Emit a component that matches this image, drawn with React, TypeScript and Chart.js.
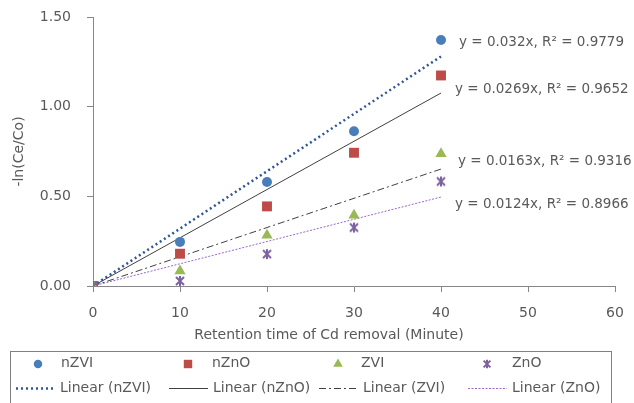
import React, { useEffect, useRef } from 'react';
import { Chart, registerables } from 'chart.js';

Chart.register(...registerables);

// Retention time (minutes) and -ln(Ce/Co) for each adsorbent
const times = [0, 10, 20, 30, 40];
const seriesNames = ['nZVI', 'nZnO', 'ZVI', 'ZnO'];
const nZVI = [0, 0.246, 0.58, 0.863, 1.372];
const nZnO = [0, 0.18, 0.444, 0.743, 1.174];
const ZVI = [0, 0.083, 0.283, 0.394, 0.737];
const ZnO = [0, 0.028, 0.178, 0.326, 0.583];
const seriesValues = [nZVI, nZnO, ZVI, ZnO];

// Linear fits through the origin
const slopes = [0.032, 0.0269, 0.0163, 0.0124];
const rSquared = ['0.9779', '0.9652', '0.9316', '0.8966'];
const fitEnd = 40;

const xTitle = 'Retention time of Cd removal (Minute)';
const yTitle = '-ln(Ce/Co)';

const FONT = '"DejaVu Sans", Verdana, sans-serif';
const TEXT = '#595959';
const AXIS = '#868686';

const markerColors = ['#4a7ebb', '#be4b48', '#98b954', '#7d60a0'];
const markerStyles = ['circle', 'rect', 'triangle', 'star'];
const markerRadius = [5, 7, 6.5, 5];

const lineColors = ['#2f5597', '#404040', '#404040', '#9966cc'];
const lineWidths = [2.5, 1, 1, 1];
const lineDashes = [[2, 3], [], [7, 3, 2, 3], [2, 1.5]];

// equation label placement (pixels from canvas origin)
const eqLabelPos = [
  [459, 42],
  [455, 89],
  [458, 161],
  [455, 204],
];

function markerPath(ctx: CanvasRenderingContext2D, i: number, x: number, y: number, r: number) {
  ctx.save();
  ctx.fillStyle = markerColors[i];
  ctx.strokeStyle = markerColors[i];
  ctx.beginPath();
  const style = markerStyles[i];
  if (style === 'circle') {
    ctx.arc(x, y, r, 0, Math.PI * 2);
    ctx.fill();
  } else if (style === 'rect') {
    const s = r * Math.SQRT1_2;
    ctx.rect(x - s, y - s, 2 * s, 2 * s);
    ctx.fill();
  } else if (style === 'triangle') {
    ctx.moveTo(x, y - r);
    ctx.lineTo(x + r * 0.866, y + r * 0.5);
    ctx.lineTo(x - r * 0.866, y + r * 0.5);
    ctx.closePath();
    ctx.fill();
  } else {
    // asterisk: an X crossed by a vertical bar
    ctx.lineWidth = 2;
    const d = r * 0.8;
    ctx.moveTo(x - d, y - d);
    ctx.lineTo(x + d, y + d);
    ctx.moveTo(x + d, y - d);
    ctx.lineTo(x - d, y + d);
    ctx.moveTo(x, y - r);
    ctx.lineTo(x, y + r);
    ctx.stroke();
  }
  ctx.restore();
}

// the ZnO asterisk, handed to Chart.js as an image point style
function asteriskCanvas(i: number, r: number) {
  const size = Math.ceil(r * 2 + 4);
  const c = document.createElement('canvas');
  c.width = size;
  c.height = size;
  const cx = c.getContext('2d');
  if (cx) markerPath(cx, i, size / 2, size / 2, r);
  return c;
}

const overlayPlugin = {
  id: 'overlay',
  afterDraw(chart: any) {
    const ctx: CanvasRenderingContext2D = chart.ctx;
    const area = chart.chartArea;
    ctx.save();
    ctx.font = `14px ${FONT}`;
    ctx.fillStyle = TEXT;
    ctx.textBaseline = 'middle';

    // axis titles
    ctx.textAlign = 'center';
    ctx.fillText(xTitle, 329, 335);
    ctx.save();
    ctx.translate(19, (area.top + area.bottom) / 2);
    ctx.rotate(-Math.PI / 2);
    ctx.fillText(yTitle, 0, 0);
    ctx.restore();

    // trendline equations
    ctx.font = `13.5px ${FONT}`;
    ctx.textAlign = 'left';
    slopes.forEach((m, i) => {
      const [lx, ly] = eqLabelPos[i];
      ctx.fillText(`y = ${m}x, R² = ${rSquared[i]}`, lx, ly);
    });

    // legend box
    ctx.font = `14px ${FONT}`;
    ctx.strokeStyle = '#808080';
    ctx.lineWidth = 1;
    ctx.strokeRect(10.5, 351.5, 601, 60);

    const colX = [38, 188, 338, 487];
    const labelX = [61, 212, 361, 512];
    const lineStart = [16, 169, 319, 468];
    const row1 = 364;
    const row2 = 388;
    seriesNames.forEach((name, i) => {
      markerPath(ctx, i, colX[i], row1, markerRadius[i] * 0.85);
      ctx.fillStyle = TEXT;
      ctx.fillText(name, labelX[i], row1 - 1);

      ctx.save();
      ctx.strokeStyle = lineColors[i];
      ctx.lineWidth = lineWidths[i];
      ctx.setLineDash(lineDashes[i]);
      ctx.beginPath();
      ctx.moveTo(lineStart[i], row2 + 0.5);
      ctx.lineTo(lineStart[i] + 39, row2 + 0.5);
      ctx.stroke();
      ctx.restore();
      ctx.fillStyle = TEXT;
      ctx.fillText(`Linear (${name})`, lineStart[i] + 44, row2);
    });
    ctx.restore();
  },
};

export default function App() {
  const canvasRef = useRef<HTMLCanvasElement>(null);

  useEffect(() => {
    const canvas = canvasRef.current;
    if (!canvas) return;

    const fitSets = seriesNames.map((name, i) => ({
      label: `Linear (${name})`,
      data: [
        { x: 0, y: 0 },
        { x: fitEnd, y: slopes[i] * fitEnd },
      ],
      showLine: true,
      borderColor: lineColors[i],
      borderWidth: lineWidths[i],
      borderDash: lineDashes[i],
      pointRadius: 0,
      order: 10,
    }));

    // later series are drawn over earlier ones
    const pointSets = seriesNames.map((name, i) => ({
      label: name,
      data: times.map((t, k) => ({ x: t, y: seriesValues[i][k] })),
      showLine: false,
      pointStyle: markerStyles[i] === 'star' ? asteriskCanvas(i, markerRadius[i]) : markerStyles[i],
      pointRadius: markerRadius[i],
      pointBackgroundColor: markerColors[i],
      pointBorderColor: markerColors[i],
      pointBorderWidth: 0,
      order: 5 - i,
    }));

    const chart = new Chart(canvas, {
      type: 'scatter',
      data: { datasets: [...fitSets, ...pointSets] as any },
      options: {
        responsive: false,
        animation: false,
        layout: { padding: { top: 17, right: 19, bottom: 57, left: 0 } },
        plugins: {
          legend: { display: false },
          tooltip: { enabled: false },
        },
        scales: {
          x: {
            type: 'linear',
            min: 0,
            max: 60,
            afterFit: (s: any) => {
              s.height = 60;
              s.paddingLeft = 0;
              s.paddingRight = 0;
            },
            ticks: {
              stepSize: 10,
              color: TEXT,
              font: { family: FONT, size: 14 },
              padding: 13,
            },
            grid: { drawOnChartArea: false, drawTicks: true, tickLength: 6, color: AXIS },
            border: { color: AXIS, width: 1 },
          },
          y: {
            type: 'linear',
            min: 0,
            max: 1.5,
            afterFit: (s: any) => {
              s.width = 93;
              s.paddingTop = 0;
              s.paddingBottom = 0;
            },
            ticks: {
              stepSize: 0.5,
              color: TEXT,
              font: { family: FONT, size: 14 },
              padding: 16,
              callback: (v: any) => Number(v).toFixed(2),
            },
            grid: { drawOnChartArea: false, drawTicks: true, tickLength: 6, color: AXIS },
            border: { color: AXIS, width: 1 },
          },
        },
      },
      plugins: [overlayPlugin],
    });

    return () => chart.destroy();
  }, []);

  return (
    <div style={{ position: 'fixed', left: 0, top: 0, width: 634, height: 403, background: '#fff' }}>
      <canvas ref={canvasRef} width={634} height={403} />
    </div>
  );
}
